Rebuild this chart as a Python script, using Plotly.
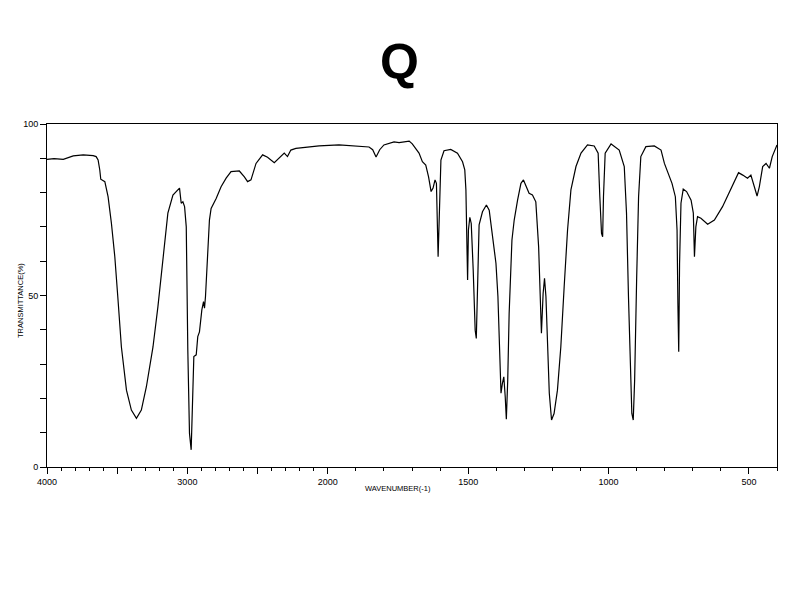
import plotly.graph_objects as go

title_text = "Q"
x_title = "WAVENUMBER(-1)"
y_title = "TRANSMITTANCE(%)"

wavenumber = [4000, 3950, 3884, 3850, 3813, 3742, 3671, 3650, 3636, 3624, 3617, 3588, 3565, 3541,
              3517, 3494, 3470, 3434, 3399, 3363, 3328, 3292, 3245, 3210, 3174, 3139, 3103, 3068,
              3056, 3044, 3032, 3020, 3008, 2997, 2985, 2973, 2961, 2954, 2937, 2926, 2914, 2897,
              2885, 2878, 2871, 2862, 2843, 2831, 2795, 2760, 2724, 2689, 2630, 2594, 2571, 2547,
              2511, 2464, 2429, 2381, 2346, 2310, 2287, 2263, 2227, 2150, 2062, 1960, 1853, 1840,
              1828, 1815, 1800, 1764, 1746, 1710, 1699, 1675, 1663, 1651, 1641, 1632, 1625, 1618,
              1613, 1607, 1603, 1597, 1586, 1562, 1538, 1520, 1512, 1508, 1502, 1499, 1494, 1489,
              1482, 1475, 1471, 1467, 1461, 1449, 1435, 1425, 1413, 1401, 1394, 1387, 1383, 1378,
              1373, 1368, 1364, 1359, 1354, 1344, 1336, 1324, 1312, 1303, 1292, 1283, 1271, 1259,
              1249, 1243, 1239, 1233, 1228, 1223, 1217, 1211, 1203, 1194, 1182, 1170, 1158, 1146,
              1134, 1116, 1098, 1075, 1051, 1037, 1031, 1025, 1021, 1018, 1012, 991, 986, 962,
              944, 936, 929, 923, 917, 912, 907, 900, 893, 885, 867, 837, 813, 801, 790, 774, 762,
              756, 753, 750, 747, 742, 734, 722, 706, 698, 694, 689, 683, 671, 647, 623, 594, 564,
              537, 522, 505, 493, 481, 471, 463, 451, 439, 427, 417, 400]
transmittance = [89.7, 89.9, 89.7, 90.2, 90.7, 91.0, 90.8, 90.5, 89.5, 86.6, 83.9, 83.2, 78.8, 71.0,
                 61.3, 48.7, 35.0, 22.4, 16.6, 14.2, 16.6, 23.4, 35.0, 46.7, 61.3, 74.0, 79.3, 80.8,
                 81.3, 76.9, 77.3, 75.9, 70.0, 34.1, 9.8, 5.0, 20.5, 32.2, 32.7, 38.0, 39.4, 45.8,
                 48.2, 46.3, 49.7, 58.4, 72.0, 75.4, 78.3, 81.7, 84.2, 86.1, 86.3, 84.6, 83.2, 83.7,
                 88.5, 91.0, 90.3, 88.7, 90.0, 91.5, 90.5, 92.4, 92.9, 93.3, 93.6, 93.9, 93.3, 92.5,
                 90.4, 92.5, 93.9, 94.8, 94.6, 95.0, 94.2, 91.5, 89.0, 88.0, 84.6, 80.3, 81.3, 83.7,
                 82.7, 61.3, 73.0, 89.5, 92.2, 92.6, 91.5, 89.0, 86.6, 80.8, 54.5, 69.1, 72.8, 71.0,
                 57.4, 39.9, 37.5, 49.7, 70.6, 74.4, 76.4, 74.9, 66.2, 59.4, 49.7, 30.2, 21.5, 24.4,
                 26.3, 20.5, 13.9, 25.4, 44.8, 66.2, 72.0, 77.8, 82.7, 83.7, 81.3, 79.8, 79.3, 77.3,
                 64.2, 49.7, 39.0, 50.6, 55.0, 49.7, 35.0, 21.5, 13.7, 15.6, 22.4, 35.0, 52.6, 69.1,
                 80.8, 87.6, 91.5, 93.9, 93.6, 91.5, 78.8, 68.1, 67.1, 78.8, 91.5, 94.2, 93.9, 92.4,
                 87.6, 74.0, 49.7, 30.2, 15.6, 13.7, 25.4, 54.5, 78.8, 90.5, 93.4, 93.6, 92.4, 88.5,
                 86.1, 82.7, 78.8, 69.1, 47.7, 33.6, 59.4, 76.9, 81.0, 80.3, 77.8, 74.0, 61.3, 70.0,
                 73.0, 72.5, 70.8, 72.0, 75.9, 81.3, 85.8, 85.1, 84.2, 85.1, 81.7, 79.0, 81.7, 87.6,
                 88.5, 87.1, 90.5, 93.9]

major_ticks = [4000, 3500, 3000, 2500, 2000, 1500, 1000, 500]
major_labels = ["4000", "", "3000", "", "2000", "1500", "1000", "500"]
y_ticks = [0, 50, 100]
y_labels = ["0", "50", "100"]


def wn_to_pos(wn):
    # IR chart scale: 1000 cm-1 per unit above 2000, 500 cm-1 per unit below
    if wn >= 2000:
        return (4000 - wn) / 1000.0
    return 2.0 + (2000 - wn) / 500.0


minor_wn = [w for w in range(3900, 2000, -100) if w % 500 != 0] + \
           [w for w in range(1900, 399, -100) if w % 500 != 0]

xpos = [wn_to_pos(w) for w in wavenumber]

W, H = 800, 600
ML, MR, MT, MB = 47, 23, 124, 133
PW, PH = W - ML - MR, H - MT - MB


def px_to_paper(px, py):
    return (px - ML) / PW, (H - MB - py) / PH


fig = go.Figure()
fig.add_trace(go.Scatter(x=xpos, y=transmittance, mode="lines",
                         line=dict(color="black", width=1.2), hoverinfo="skip",
                         showlegend=False))

tick_font = dict(family="Liberation Sans", size=9, color="black")

ann = []
for text, px, py, size, angle in [("<b>" + title_text + "</b>", 399, 62, 50, 0),
                                  (x_title, 398, 488, 7.5, 0),
                                  (y_title, 20, 301, 7.5, -90)]:
    ax, ay = px_to_paper(px, py)
    ann.append(dict(text=text, x=ax, y=ay, xref="paper", yref="paper",
                    xanchor="center", yanchor="middle", showarrow=False, textangle=angle,
                    font=dict(family="Liberation Sans", size=size, color="black")))

fig.update_layout(
    width=W, height=H,
    paper_bgcolor="white", plot_bgcolor="white",
    margin=dict(l=ML, r=MR, t=MT, b=MB, autoexpand=False),
    showlegend=False,
    xaxis=dict(
        range=[0, wn_to_pos(400)], showgrid=False, zeroline=False,
        showline=True, linecolor="black", linewidth=1, mirror=True,
        tickmode="array", tickvals=[wn_to_pos(w) for w in major_ticks], ticktext=major_labels,
        ticks="outside", ticklen=6, tickwidth=1, tickcolor="black", tickfont=tick_font,
        minor=dict(tickmode="array", tickvals=[wn_to_pos(w) for w in minor_wn],
                   ticks="outside", ticklen=3, tickwidth=1, tickcolor="black"),
    ),
    yaxis=dict(
        range=[0, 100], showgrid=False, zeroline=False,
        showline=True, linecolor="black", linewidth=1, mirror=True,
        tickmode="array", tickvals=y_ticks, ticktext=y_labels,
        ticks="outside", ticklen=6, tickwidth=1, tickcolor="black", tickfont=tick_font,
        minor=dict(tickmode="array", tickvals=[10, 20, 30, 40, 60, 70, 80, 90],
                   ticks="outside", ticklen=6, tickwidth=1, tickcolor="black"),
    ),
    annotations=ann,
)

fig.write_html("out.html", config={"displayModeBar": False},
               post_script="document.body.style.margin='0';")
